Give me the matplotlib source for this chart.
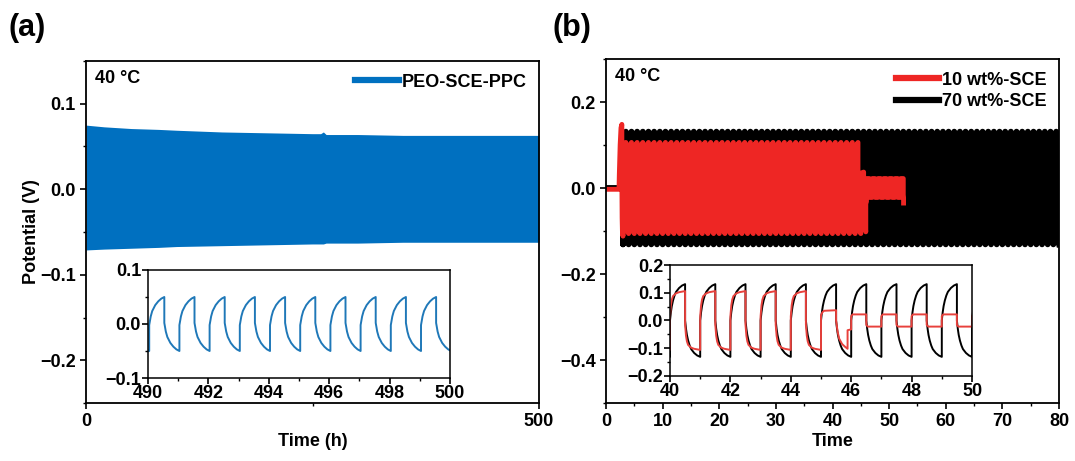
import numpy as np
import matplotlib.pyplot as plt
from matplotlib.ticker import MultipleLocator

plt.rcParams['font.family'] = ['Liberation Sans', 'DejaVu Sans']
plt.rcParams['font.weight'] = 'bold'
plt.rcParams['axes.labelweight'] = 'bold'
plt.rcParams['font.size'] = 13

BLUE = '#0070c0'
RED = '#ee2624'

# ---- (a) PEO-SCE-PPC, 40 C: envelope of the blue band (h, V)
a_env_t = [0, 20, 50, 80, 100, 150, 200, 250, 259, 262, 265, 300, 350, 400, 450, 500]
a_env_hi = [0.075, 0.073, 0.071, 0.070, 0.069, 0.067, 0.066, 0.065, 0.065, 0.067, 0.064, 0.064, 0.063, 0.063, 0.063, 0.063]
a_env_lo = [-0.071, -0.070, -0.069, -0.068, -0.067, -0.066, -0.065, -0.064, -0.064, -0.064, -0.063, -0.063, -0.062, -0.062, -0.062, -0.062]

# one cycle of the blue trace (offset in h, V)
blue_cyc_t = [0.0, 0.0, 0.05, 0.1, 0.2, 0.3, 0.4, 0.5, 0.5, 0.55, 0.6, 0.7, 0.8, 0.9, 1.0]
blue_cyc_v = [-0.050, -0.002, 0.014, 0.024, 0.035, 0.042, 0.047, 0.050,
              0.002, -0.014, -0.024, -0.035, -0.042, -0.047, -0.050]
blue_start = 489.04
blue_cycles = 11

# ---- (b) 10 wt% and 70 wt% SCE
# one cycle of each trace (offset in h, V)
black_cyc_t = [0.0, 0.0, 0.03, 0.06, 0.1, 0.15, 0.2, 0.3, 0.4, 0.5,
               0.5, 0.53, 0.56, 0.6, 0.65, 0.7, 0.8, 0.9, 1.0]
black_cyc_v = [-0.131, 0.000, 0.030, 0.052, 0.072, 0.090, 0.103, 0.117, 0.126, 0.131,
               0.000, -0.030, -0.052, -0.072, -0.090, -0.103, -0.117, -0.126, -0.131]
red_cyc_t = [0.0, 0.0, 0.03, 0.06, 0.1, 0.2, 0.3, 0.5, 0.5, 0.53, 0.56, 0.6, 0.7, 0.8, 1.0]
red_cyc_v = [-0.106, 0.015, 0.055, 0.075, 0.088, 0.098, 0.102, 0.106,
             -0.015, -0.055, -0.075, -0.088, -0.098, -0.102, -0.106]
red_late_t = [0.0, 0.0, 0.05, 0.5, 0.5, 0.55, 1.0]
red_late_v = [-0.022, 0.016, 0.022, 0.022, -0.016, -0.022, -0.022]

black_pre_t = [0.0, 3.0]
black_pre_v = [0.0, 0.0]
black_cycles = range(3, 80)

red_pre_t = [0.0, 2.3, 2.35, 2.5, 2.65, 2.8, 2.8, 2.85, 2.9, 3.0]
red_pre_v = [-0.003, -0.003, 0.03, 0.10, 0.14, 0.148, 0.02, -0.07, -0.10, -0.112]
red_cycles = range(3, 45)
red_c45_t = [45.0, 45.0, 45.05, 45.1, 45.5, 45.5, 45.55, 45.6, 45.7, 45.8, 45.88, 45.88, 46.0]
red_c45_v = [-0.106, 0.020, 0.030, 0.035, 0.037, 0.000, -0.040, -0.065, -0.085, -0.095, -0.102, -0.035, -0.032]
red_late_cycles = range(46, 53)
red_end = 52.55


def repeat_cycle(cyc_t, cyc_v, starts):
    t = np.concatenate([s + np.array(cyc_t) for s in starts])
    v = np.tile(cyc_v, len(starts))
    return t, v


bt, bv = repeat_cycle(black_cyc_t, black_cyc_v, list(black_cycles))
black_t = np.concatenate([black_pre_t, bt])
black_v = np.concatenate([black_pre_v, bv])

rt, rv = repeat_cycle(red_cyc_t, red_cyc_v, list(red_cycles))
lt, lv = repeat_cycle(red_late_t, red_late_v, list(red_late_cycles))
keep = lt <= red_end
red_t = np.concatenate([red_pre_t, rt, red_c45_t, lt[keep], [red_end]])
red_v = np.concatenate([red_pre_v, rv, red_c45_v, lv[keep], [-0.035]])

blt, blv = repeat_cycle(blue_cyc_t, blue_cyc_v, [blue_start + k for k in range(blue_cycles)])

fig = plt.figure(figsize=(10.75, 4.61), dpi=100)
W, H = 1075, 461


def box(x0, y0, x1, y1):
    return [x0 / W, 1 - y1 / H, (x1 - x0) / W, (y1 - y0) / H]


def style(ax, lw=1.3):
    for s in ax.spines.values():
        s.set_linewidth(lw)
    ax.tick_params(which='major', direction='out', length=4, width=1.2, labelsize=13)
    ax.tick_params(which='minor', direction='out', length=2.5, width=1.0)


ax_a = fig.add_axes(box(86, 61, 539, 403))
ax_b = fig.add_axes(box(606, 59, 1059, 403))
in_a = fig.add_axes(box(148, 270, 450, 378))
in_b = fig.add_axes(box(670, 265, 972, 376))

# (a) main
ax_a.fill_between(a_env_t, a_env_lo, a_env_hi, color=BLUE, lw=0)
ax_a.plot([], [], color=BLUE, lw=4.5, label='PEO-SCE-PPC')
ax_a.set_xlim(0, 500)
ax_a.set_ylim(-0.25, 0.15)
ax_a.xaxis.set_major_locator(MultipleLocator(500))
ax_a.xaxis.set_minor_locator(MultipleLocator(250))
ax_a.yaxis.set_major_locator(MultipleLocator(0.1))
ax_a.yaxis.set_minor_locator(MultipleLocator(0.05))
ax_a.set_xlabel('Time (h)', fontsize=13, labelpad=2)
ax_a.set_ylabel('Potential (V)', fontsize=13, labelpad=0)
ax_a.text(0.02, 0.95, '40 °C', transform=ax_a.transAxes, va='center', ha='left')
ax_a.legend(loc='upper right', frameon=False, handlelength=2.4, handletextpad=0.15,
            borderaxespad=0.3, fontsize=13)
style(ax_a)

# (a) inset
in_a.plot(blt, blv, color='#1f78b8', lw=1.4)
in_a.set_xlim(490, 500)
in_a.set_ylim(-0.1, 0.1)
in_a.xaxis.set_major_locator(MultipleLocator(2))
in_a.xaxis.set_minor_locator(MultipleLocator(1))
in_a.yaxis.set_major_locator(MultipleLocator(0.1))
in_a.yaxis.set_minor_locator(MultipleLocator(0.05))
in_a.tick_params(pad=1)
style(in_a, 1.1)

# (b) main
ax_b.plot(black_t, black_v, color='black', lw=4.2, label='70 wt%-SCE')
ax_b.plot(red_t, red_v, color=RED, lw=3.5, label='10 wt%-SCE')
ax_b.set_xlim(0, 80)
ax_b.set_ylim(-0.5, 0.3)
ax_b.xaxis.set_major_locator(MultipleLocator(10))
ax_b.xaxis.set_minor_locator(MultipleLocator(5))
ax_b.yaxis.set_major_locator(MultipleLocator(0.2))
ax_b.yaxis.set_minor_locator(MultipleLocator(0.1))
ax_b.set_xlabel('Time', fontsize=13, labelpad=2)
ax_b.text(0.02, 0.95, '40 °C', transform=ax_b.transAxes, va='center', ha='left')
h, l = ax_b.get_legend_handles_labels()
leg = ax_b.legend(h[::-1], l[::-1], loc='upper right', frameon=False, handlelength=2.4,
                  handletextpad=0.15, borderaxespad=0.3, labelspacing=0.25, fontsize=13)
for line in leg.get_lines():
    line.set_linewidth(4.5)
style(ax_b)

# (b) inset
in_b.plot(black_t, black_v, color='black', lw=1.4)
in_b.plot(red_t, red_v, color='#e8413c', lw=1.4)
in_b.set_xlim(40, 50)
in_b.set_ylim(-0.2, 0.2)
in_b.xaxis.set_major_locator(MultipleLocator(2))
in_b.xaxis.set_minor_locator(MultipleLocator(1))
in_b.yaxis.set_major_locator(MultipleLocator(0.1))
in_b.yaxis.set_minor_locator(MultipleLocator(0.05))
in_b.tick_params(pad=1)
style(in_b, 1.1)

fig.text(8 / W, 1 - 28 / H, '(a)', fontsize=22, va='center', ha='left')
fig.text(553 / W, 1 - 28 / H, '(b)', fontsize=22, va='center', ha='left')

fig.savefig('out.png', dpi=100)
